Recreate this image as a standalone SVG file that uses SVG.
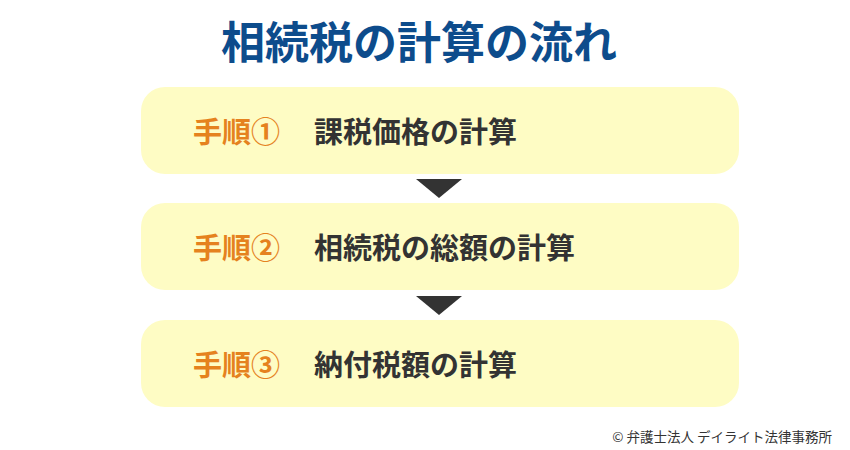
<svg xmlns="http://www.w3.org/2000/svg" width="850" height="450" viewBox="0 0 850 450">
<style>
.box{fill:#fefcc4}
.step{font-family:"Noto Sans CJK JP","Noto Sans",sans-serif;font-weight:bold;font-size:29px;fill:#e5821e}
.lbl{font-family:"Noto Sans CJK JP","Noto Sans",sans-serif;font-weight:bold;font-size:29px;fill:#333333}
.arrow{fill:#333333}
</style>
<rect width="850" height="450" fill="#ffffff"/>
<text x="419" y="58.5" text-anchor="middle" font-family="'Noto Sans CJK JP',sans-serif" font-weight="bold" font-size="44" fill="#0d4c8c">相続税の計算の流れ</text>
<g id="step1">
<rect class="box" x="141" y="87" width="598" height="87" rx="24"/>
<text class="step" x="193" y="143">手順①</text>
<text class="lbl" x="314" y="143">課税価格の計算</text>
</g>
<g id="step2">
<rect class="box" x="141" y="203" width="598" height="87" rx="24"/>
<text class="step" x="193" y="259">手順②</text>
<text class="lbl" x="314" y="259">相続税の総額の計算</text>
</g>
<g id="step3">
<rect class="box" x="141" y="320" width="598" height="87" rx="24"/>
<text class="step" x="193" y="376">手順③</text>
<text class="lbl" x="314" y="376">納付税額の計算</text>
</g>
<g id="connectors">
<polygon class="arrow" points="416,179 462,179 439,198"/>
<polygon class="arrow" points="416,296 462,296 439,315"/>
</g>
<text x="832" y="442" text-anchor="end" font-family="'Noto Sans CJK JP',sans-serif" font-size="13.5" fill="#333333">© 弁護士法人 デイライト法律事務所</text>
</svg>
